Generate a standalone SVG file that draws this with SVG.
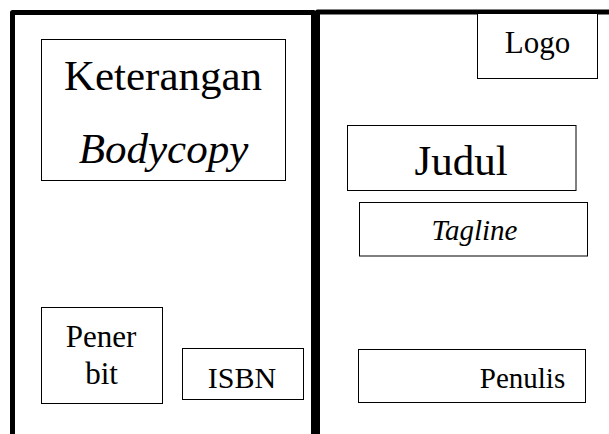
<svg xmlns="http://www.w3.org/2000/svg" width="609" height="434" viewBox="0 0 609 434">
<style>
.frame{fill:none;stroke:#000;stroke-width:5;stroke-linejoin:round}
.box{fill:#fff;stroke:#000;stroke-width:1}
.t{font-family:"Liberation Serif","Times New Roman",serif;fill:#000;text-anchor:middle}
.i{font-style:italic}
</style>
<rect width="609" height="434" fill="#fff"/>
<g id="connectors">
<path class="frame" d="M12.5,434 V12.5 H313.5 V434"/>
<path class="frame" d="M317.5,434 V12 H609"/>
</g>
<g id="keterangan">
<rect class="box" x="41.5" y="39.5" width="244" height="141"/>
<text class="t" x="163" y="90" font-size="43">Keterangan</text>
<text class="t i" x="163.5" y="163" font-size="43">Bodycopy</text>
</g>
<g id="logo">
<rect class="box" x="477.5" y="13.5" width="120" height="65"/>
<text class="t" x="537.5" y="53" font-size="31">Logo</text>
</g>
<g id="judul">
<rect class="box" x="347.5" y="125.5" width="228.5" height="65"/>
<text class="t" x="461" y="175" font-size="43">Judul</text>
</g>
<g id="tagline">
<rect class="box" x="359.5" y="202.5" width="228" height="53.5"/>
<text class="t i" x="474.5" y="240" font-size="29">Tagline</text>
</g>
<g id="penerbit">
<rect class="box" x="41.5" y="307.5" width="121" height="96"/>
<text class="t" x="101" y="346.5" font-size="31">Pener</text>
<text class="t" x="101.5" y="383.5" font-size="31">bit</text>
</g>
<g id="isbn">
<rect class="box" x="182.5" y="348.5" width="121" height="51"/>
<text class="t" x="242" y="387.5" font-size="30">ISBN</text>
</g>
<g id="penulis">
<rect class="box" x="358.5" y="349.5" width="227" height="53"/>
<text class="t" x="522.5" y="387.5" font-size="29">Penulis</text>
</g>
</svg>
